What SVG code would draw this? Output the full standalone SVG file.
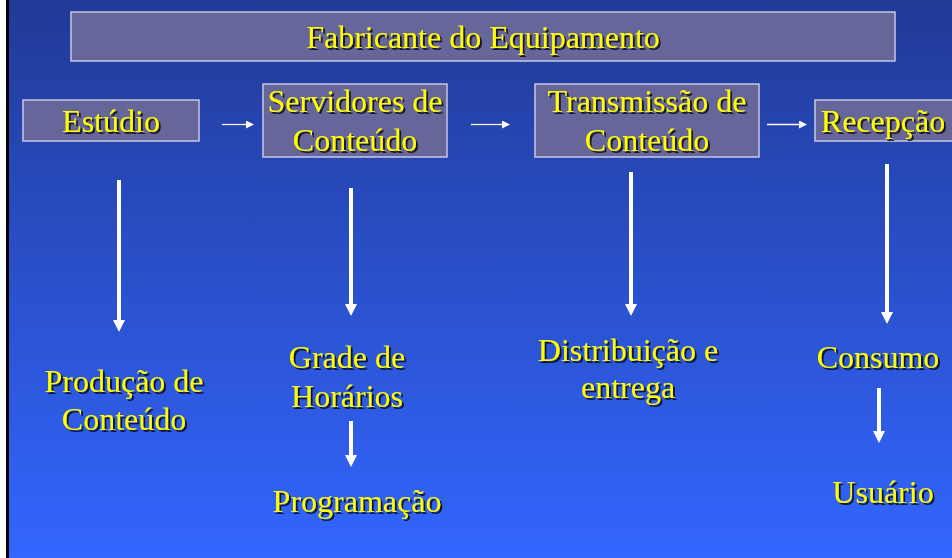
<svg xmlns="http://www.w3.org/2000/svg" width="952" height="558" viewBox="0 0 952 558">
<defs>
<linearGradient id="bg" x1="0" y1="0" x2="0" y2="1">
<stop offset="0" stop-color="#213a96"/>
<stop offset="1" stop-color="#3366ff"/>
</linearGradient>
<filter id="sh" x="-5%" y="-20%" width="110%" height="140%">
<feDropShadow dx="2" dy="2" stdDeviation="0.3" flood-color="#000" flood-opacity="0.75"/>
</filter>
<marker id="hs" viewBox="0 0 8 8" refX="1" refY="4" markerWidth="8" markerHeight="8" markerUnits="userSpaceOnUse" orient="auto">
<path d="M0,0 L8,4 L0,8 Z" fill="#fff"/>
</marker>
<marker id="hb" viewBox="0 0 12 12" refX="1" refY="6" markerWidth="12" markerHeight="12" markerUnits="userSpaceOnUse" orient="auto">
<path d="M0,0 L12,6 L0,12 Z" fill="#fff"/>
</marker>
</defs>
<style>
.box{fill:#66669a;stroke:#c8c8e8;stroke-width:1.5}
.t{font-family:"Liberation Serif","Times New Roman",serif;font-size:32px;fill:#ffff00;text-anchor:middle;filter:url(#sh)}
.a1{stroke:#fff;stroke-width:1.3;fill:none;marker-end:url(#hs)}
.a2{stroke:#fff;stroke-width:4;fill:none;marker-end:url(#hb)}
</style>
<rect x="0" y="0" width="952" height="558" fill="#fff"/>
<rect x="6" y="0" width="946" height="558" fill="#000"/>
<rect x="9" y="0" width="943" height="558" fill="url(#bg)"/>

<g id="fabricante">
<rect class="box" x="71" y="12" width="824" height="49"/>
<text class="t" x="483" y="48">Fabricante do Equipamento</text>
</g>
<g id="estudio">
<rect class="box" x="23" y="100" width="176" height="41"/>
<text class="t" x="111" y="132">Estúdio</text>
</g>
<g id="servidores">
<rect class="box" x="263" y="84" width="184" height="73"/>
<text class="t" x="355" y="112">Servidores de</text>
<text class="t" x="355" y="151">Conteúdo</text>
</g>
<g id="transmissao">
<rect class="box" x="535" y="84" width="224" height="73"/>
<text class="t" x="647" y="112">Transmissão de</text>
<text class="t" x="647" y="151">Conteúdo</text>
</g>
<g id="recepcao">
<rect class="box" x="815" y="100" width="140" height="41"/>
<text class="t" x="883" y="132">Recepção</text>
</g>
<g id="producao">
<text class="t" x="124" y="392">Produção de</text>
<text class="t" x="124" y="430">Conteúdo</text>
</g>
<g id="grade">
<text class="t" x="347" y="368">Grade de</text>
<text class="t" x="347" y="407">Horários</text>
</g>
<g id="programacao">
<text class="t" x="357" y="512">Programação</text>
</g>
<g id="distribuicao">
<text class="t" x="628" y="361">Distribuição e</text>
<text class="t" x="628" y="398">entrega</text>
</g>
<g id="consumo">
<text class="t" x="878" y="368">Consumo</text>
</g>
<g id="usuario">
<text class="t" x="883" y="503">Usuário</text>
</g>

<g id="connectors">
<line class="a1" x1="222" y1="124.5" x2="247" y2="124.5"/>
<line class="a1" x1="471" y1="124.5" x2="503" y2="124.5"/>
<line class="a1" x1="767" y1="124.5" x2="800" y2="124.5"/>
<line class="a2" x1="119" y1="180" x2="119" y2="321"/>
<line class="a2" x1="351" y1="188" x2="351" y2="305"/>
<line class="a2" x1="351" y1="421" x2="351" y2="456"/>
<line class="a2" x1="631" y1="172" x2="631" y2="305"/>
<line class="a2" x1="887" y1="164" x2="887" y2="313"/>
<line class="a2" x1="879" y1="388" x2="879" y2="432"/>
</g>
</svg>
